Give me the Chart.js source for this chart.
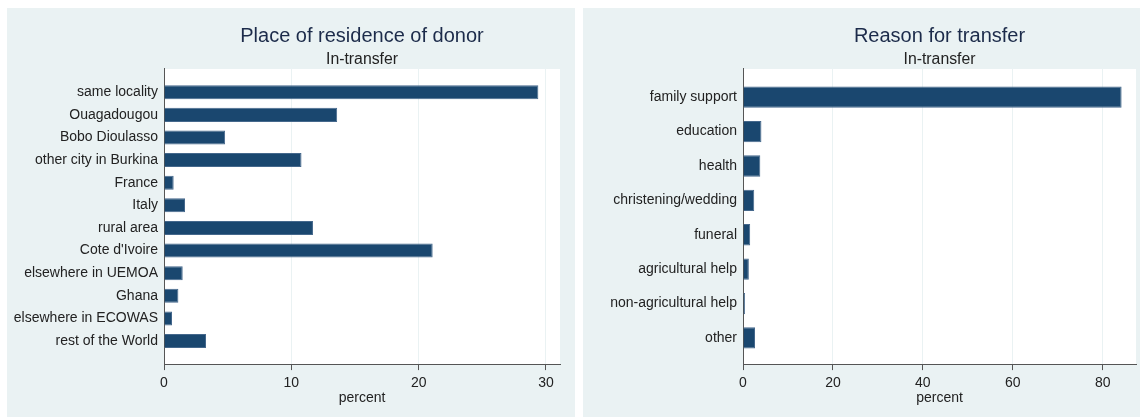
<!DOCTYPE html>
<html>
<head>
<meta charset="utf-8">
<script src="https://cdn.jsdelivr.net/npm/chart.js@4.4.0/dist/chart.umd.min.js"></script>
<style>
  html, body { margin: 0; padding: 0; background: #ffffff; }
  body { width: 1140px; height: 417px; position: relative; overflow: hidden; }
  .panel { position: absolute; top: 8px; height: 409px; background: #eaf2f3; }
  #p1 { left: 7px; width: 568px; }
  #p2 { left: 583px; width: 557px; }
  canvas { display: block; }
</style>
</head>
<body>
<div class="panel" id="p1"><canvas id="c1"></canvas></div>
<div class="panel" id="p2"><canvas id="c2"></canvas></div>
<script>
// ---- data ----
const residenceCategories = ['same locality', 'Ouagadougou', 'Bobo Dioulasso', 'other city in Burkina', 'France', 'Italy', 'rural area', "Cote d'Ivoire", 'elsewhere in UEMOA', 'Ghana', 'elsewhere in ECOWAS', 'rest of the World'];
const residenceValues = [29.4, 13.6, 4.8, 10.8, 0.76, 1.65, 11.7, 21.1, 1.47, 1.13, 0.63, 3.3];
const residenceTicks = [0, 10, 20, 30];

const reasonCategories = ['family support', 'education', 'health', 'christening/wedding', 'funeral', 'agricultural help', 'non-agricultural help', 'other'];
const reasonValues = [84.2, 4.1, 3.85, 2.5, 1.6, 1.3, 0.44, 2.67];
const reasonTicks = [0, 20, 40, 60, 80];

const titles = ['Place of residence of donor', 'Reason for transfer'];
const subtitleText = 'In-transfer';
const axisTitle = 'percent';

// ---- styling ----
const FONT = 'Liberation Sans, Arial, sans-serif';
const BAR = '#1a476f';
const BAR_EDGE = '#45688c';
const GRID = '#eaf2f3';
const AXIS = '#555555';
const TEXT = '#222222';
const TITLE = '#1c2b4a';

const plotBg = {
  id: 'plotBg',
  beforeDraw(chart) {
    const a = chart.chartArea;
    const ctx = chart.ctx;
    ctx.save();
    ctx.fillStyle = '#ffffff';
    ctx.fillRect(a.left, a.top, a.right - a.left, a.bottom - a.top);
    ctx.restore();
  }
};

function makeChart(id, title, categories, values, ticks, cfg) {
  const el = document.getElementById(id);
  const parent = el.parentElement;
  el.width = parent.clientWidth;
  el.height = parent.clientHeight;
  return new Chart(el, {
    type: 'bar',
    data: {
      datasets: [{
        data: values.map((v, i) => ({ x: v, y: i })),
        backgroundColor: BAR,
        borderColor: BAR_EDGE,
        borderWidth: 1,
        categoryPercentage: 1,
        barPercentage: 0.62
      }]
    },
    plugins: [plotBg],
    options: {
      indexAxis: 'y',
      responsive: false,
      animation: false,
      devicePixelRatio: 1,
      layout: { padding: { left: 0, right: cfg.padRight, top: 0, bottom: 11.5 } },
      plugins: {
        legend: { display: false },
        tooltip: { enabled: false },
        title: {
          display: true, text: title, fullSize: false, color: TITLE,
          font: { family: FONT, size: 20, weight: 'normal', lineHeight: 1.2 },
          padding: { top: 16, bottom: 2 }
        },
        subtitle: {
          display: true, text: subtitleText, fullSize: false, color: TEXT,
          font: { family: FONT, size: 15.8, weight: 'normal', lineHeight: 1.2 },
          padding: { top: 0, bottom: 0 }
        }
      },
      scales: {
        x: {
          type: 'linear',
          min: 0,
          max: cfg.xMax,
          afterBuildTicks: (s) => { s.ticks = ticks.map(v => ({ value: v })); },
          grid: {
            display: true,
            color: (c) => (c.tick && c.tick.value === 0) ? 'rgba(0,0,0,0)' : GRID,
            lineWidth: 1,
            drawTicks: true,
            tickLength: 6,
            tickColor: AXIS,
            tickWidth: 1
          },
          border: { display: true, color: AXIS, width: 1 },
          ticks: { color: TEXT, padding: 4.3, maxRotation: 0, font: { family: FONT, size: 14, lineHeight: 1.2 } },
          title: {
            display: true, text: axisTitle, color: TEXT,
            font: { family: FONT, size: 14, lineHeight: 1.0 },
            padding: { top: -4, bottom: 0 }
          }
        },
        y: {
          type: 'linear',
          reverse: true,
          offset: false,
          min: cfg.yMin,
          max: cfg.yMax,
          afterBuildTicks: (s) => { s.ticks = categories.map((_, i) => ({ value: i })); },
          afterFit: (s) => { s.width = cfg.yWidth; },
          grid: { display: false, drawTicks: false, offset: false },
          border: { display: true, color: AXIS, width: 1 },
          ticks: {
            color: TEXT, padding: 6,
            font: { family: FONT, size: 14, lineHeight: 1.2 },
            callback: (v) => (categories[v] !== undefined ? categories[v] : '')
          }
        }
      }
    }
  });
}

makeChart('c1', titles[0], residenceCategories, residenceValues, residenceTicks,
  { xMax: 31.1, yMin: -1.03, yMax: 12.02, yWidth: 157, padRight: 15 });
makeChart('c2', titles[1], reasonCategories, reasonValues, reasonTicks,
  { xMax: 87.4, yMin: -0.82, yMax: 7.76, yWidth: 160, padRight: 4 });
</script>
</body>
</html>
